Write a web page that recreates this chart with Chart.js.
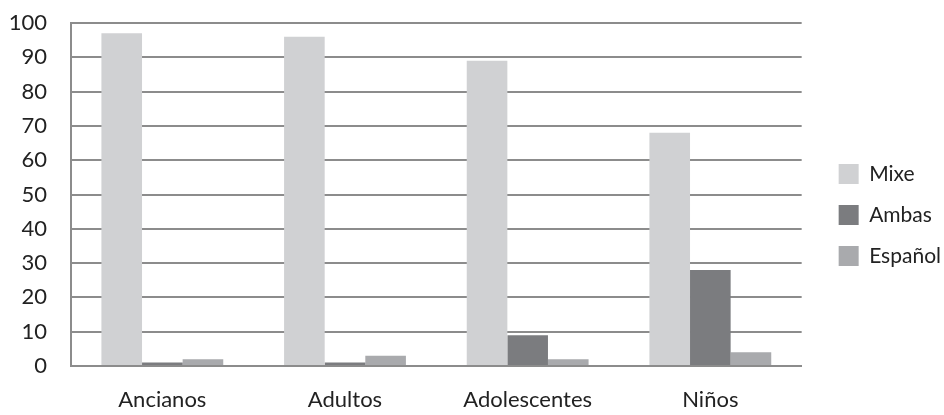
<!DOCTYPE html>
<html>
<head>
<meta charset="utf-8">
<script src="https://cdn.jsdelivr.net/npm/chart.js@4"></script>
<style>
  body { margin: 0; background: #fff; }
  #wrap { width: 944px; height: 415px; }
</style>
</head>
<body>
<div id="wrap"><canvas id="grafico" width="944" height="415"></canvas></div>
<script>
// datos
const categorias = ["Ancianos", "Adultos", "Adolescentes", "Niños"]
const mixe = [97, 96, 89, 68]
const ambas = [1, 1, 9, 28]
const espanol = [2, 3, 2, 4]
const ticksY = [0, 10, 20, 30, 40, 50, 60, 70, 80, 90, 100]

const gris = "#8c8c8c"
Chart.defaults.font.family = "Lato, 'Open Sans', sans-serif"
Chart.defaults.color = "#222"

// mueve la leyenda un poco (como en el original)
const moverLeyenda = {
    id: "moverLeyenda",
    afterLayout(chart) {
        const lg = chart.legend
        const dx = 17, dy = -4
        lg.left += dx
        lg.right += dx
        lg.top += dy
        lg.bottom += dy
    }
}

const ctx = document.getElementById("grafico")

new Chart(ctx, {
    type: "bar",
    data: {
        labels: categorias,
        datasets: [
            { label: "Mixe", data: mixe, backgroundColor: "#d0d1d3" },
            { label: "Ambas", data: ambas, backgroundColor: "#7b7c7f" },
            { label: "Español", data: espanol, backgroundColor: "#a9aaad" }
        ]
    },
    options: {
        responsive: false,
        animation: false,
        layout: { padding: { top: 23, right: 10, left: 0, bottom: 0 } },
        datasets: {
            bar: { categoryPercentage: 0.667, barPercentage: 1 }
        },
        scales: {
            x: {
                grid: { display: false },
                border: { color: gris, width: 2 },
                ticks: { font: { size: 22 }, padding: 13 },
                afterFit: s => { s.height = 49 }
            },
            y: {
                min: 0,
                max: 100,
                afterBuildTicks: s => { s.ticks = ticksY.map(v => ({ value: v })) },
                grid: { color: gris, lineWidth: 2, drawTicks: false },
                border: { color: gris, width: 2 },
                ticks: { font: { size: 22 }, padding: 24 },
                afterFit: s => {
                    s.width = 71
                    s.paddingTop = 0
                    s.paddingBottom = 0
                }
            }
        },
        plugins: {
            legend: {
                position: "right",
                labels: {
                    boxWidth: 20,
                    boxHeight: 20,
                    padding: 20,
                    font: { size: 21 },
                    color: "#222"
                }
            },
            tooltip: { enabled: false }
        }
    },
    plugins: [moverLeyenda]
})
</script>
</body>
</html>
